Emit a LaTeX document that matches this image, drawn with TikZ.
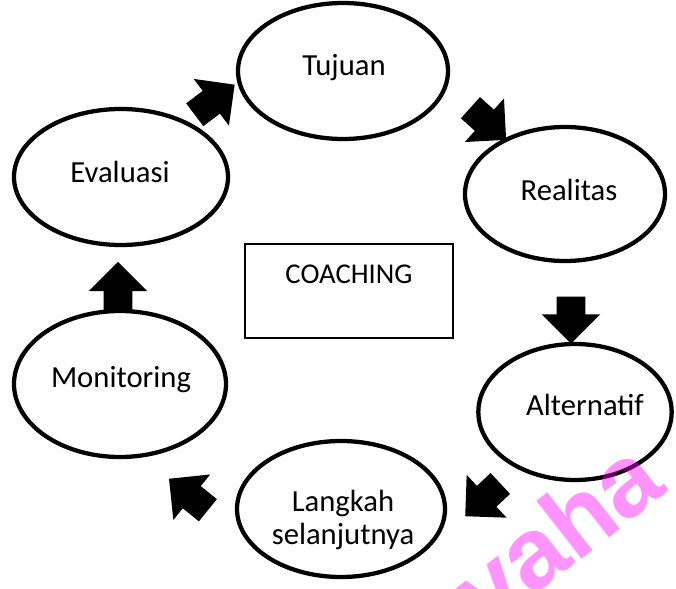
\documentclass[tikz,border=0pt]{standalone}
\usepackage{fontspec}
\setmainfont{Carlito}
\newfontfamily\markfont{Liberation Sans}
\usetikzlibrary{shapes.geometric,shapes.arrows}
\definecolor{wmpink}{RGB}{255,0,255}

\begin{document}
\begin{tikzpicture}[x=0.75pt, y=-0.75pt,
        stage/.style={draw, ellipse, line width=3.2pt, inner sep=0pt},
        stagetext/.style={font=\fontsize{23}{25}\selectfont, align=center},
        blockarrow/.style={single arrow, fill=black, inner xsep=0pt, inner ysep=10.5pt,
            minimum width=0pt, minimum height=37.5pt, single arrow head extend=11.25pt}]

        \useasboundingbox (0,0) rectangle (676,589);

        % nodes
        \node [stage, minimum width=157.5pt, minimum height=102pt] (tujuan) at (343,71) {};
        \node [stage, minimum width=150pt, minimum height=100.5pt] (realitas) at (565,194) {};
        \node [stage, minimum width=145pt, minimum height=102pt] (alternatif) at (575,412) {};
        \node [stage, minimum width=156pt, minimum height=102pt] (langkah) at (341,509) {};
        \node [stage, minimum width=159pt, minimum height=109.5pt] (monitoring) at (120,384) {};
        \node [stage, minimum width=160.5pt, minimum height=102pt] (evaluasi) at (121,177) {};

        \node [stagetext] (tujuanT) at (344,68) {Tujuan};
        \node [stagetext] (realitasT) at (569,190) {Realitas};
        \node [stagetext] (alternatifT) at (585,405) {Alternatif};
        \node [stagetext] (langkahT) at (343,520) {Langkah\\selanjutnya};
        \node [stagetext] (monitoringT) at (121,380) {Monitoring};
        \node [stagetext] (evaluasiT) at (120,172) {Evaluasi};

        \node [draw, line width=1.6pt, minimum width=156pt, minimum height=70.5pt] (coaching) at (349,291) {};
        \node [font=\fontsize{21.5}{23}\selectfont] (coachingT) at (349,274) {COACHING};

        % arrows
        \node [blockarrow, rotate=37] (evtu) at (209,104) {};
        \node [blockarrow, minimum height=36pt, rotate=-42] (ture) at (483,119) {};
        \node [blockarrow, minimum height=35.25pt, rotate=-90] (real) at (571,313) {};
        \node [blockarrow, minimum height=36pt, rotate=-137] (alla) at (488,495) {};
        \node [blockarrow, rotate=141] (lamo) at (194,499) {};
        \node [blockarrow, rotate=90] (moev) at (118,294) {};

        % watermark
        \begin{scope}
            \clip (0,0) rectangle (676,589);
            \node [text=wmpink, text opacity=0.42, rotate=38,
                font=\markfont\bfseries\fontsize{76}{76}\selectfont] (wm) at (556,533) {vaha};
        \end{scope}
    \end{tikzpicture}
\end{document}
